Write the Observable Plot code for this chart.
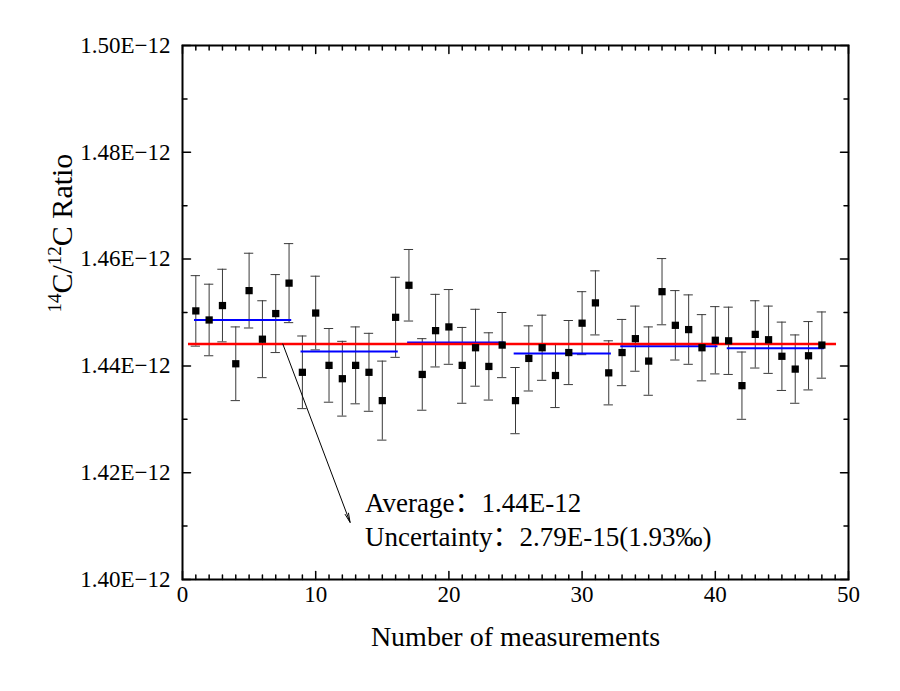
<!DOCTYPE html>
<html>
<head>
<meta charset="utf-8">
<script src="https://cdn.jsdelivr.net/npm/d3@7"></script>
<script src="https://cdn.jsdelivr.net/npm/@observablehq/plot@0.6"></script>
<style>
  html, body { margin: 0; padding: 0; background: #fff; }
</style>
</head>
<body>
<div id="chart"></div>
<script>
// Measurement number
const measurement = [1,2,3,4,5,6,7,8,9,10,11,12,13,14,15,16,17,18,19,20,21,22,23,24,
  25,26,27,28,29,30,31,32,33,34,35,36,37,38,39,40,41,42,43,44,45,46,47,48];
// 14C/12C ratio, in units of 1E-12
const ratio = [1.4503,1.4486,1.4513,1.4404,1.4541,1.4450,1.4498,1.4555,
  1.4388,1.4499,1.4401,1.4376,1.4401,1.4388,1.4335,1.4491,
  1.4551,1.4384,1.4466,1.4473,1.4401,1.4434,1.4399,1.4439,
  1.4335,1.4414,1.4434,1.4382,1.4425,1.4480,1.4518,1.4387,
  1.4425,1.4451,1.4409,1.4539,1.4476,1.4468,1.4434,1.4448,
  1.4447,1.4363,1.4459,1.4449,1.4418,1.4394,1.4419,1.4439];
// error (half-length of error bar), in units of 1E-12
const error = [0.0066,0.0067,0.0068,0.0069,0.0070,0.0072,0.0073,0.0074,
  0.0068,0.0069,0.0069,0.0070,0.0072,0.0073,0.0074,0.0075,
  0.0067,0.0067,0.0068,0.0070,0.0071,0.0072,0.0063,0.0061,
  0.0062,0.0061,0.0061,0.0060,0.0060,0.0059,0.0060,0.0060,
  0.0062,0.0061,0.0064,0.0062,0.0065,0.0065,0.0062,0.0063,
  0.0063,0.0063,0.0063,0.0063,0.0064,0.0064,0.0064,0.0062];
// group averages (blue segments)
const groupStart = [1, 9, 17, 25, 33, 41];
const groupEnd   = [8, 16, 24, 32, 40, 48];
const groupMean  = [1.4486, 1.4427, 1.4444, 1.4423, 1.4437, 1.4433];
// overall average (red line)
const overallMean = 1.4441;
// tick labels
const xTicks = [0, 10, 20, 30, 40, 50];
const yTicks = [1.40, 1.42, 1.44, 1.46, 1.48, 1.50];
const yTickLabels = ["1.40E\u221212", "1.42E\u221212", "1.44E\u221212", "1.46E\u221212", "1.48E\u221212", "1.50E\u221212"];
const annotationLines = ["Average：1.44E-12", "Uncertainty：2.79E-15(1.93‰)"];

const points = measurement.map((m, i) => ({m, v: ratio[i], e: error[i]}));
const groups = groupStart.map((s, i) => ({s, e: groupEnd[i], v: groupMean[i]}));
const yTickData = yTicks.map((v, i) => ({v, label: yTickLabels[i]}));

const xMinor = d3.range(0, 51).filter(d => d % 10 !== 0);
const yMinor = [1.41, 1.43, 1.45, 1.47, 1.49];

const lineShape = {draw(ctx, l) { ctx.moveTo(0, 0); ctx.lineTo(0, -l); }};
const tickVec = (data, opts) => Plot.vector(data, {shape: lineShape, anchor: "start", stroke: "black", strokeWidth: 1.5, ...opts});

const chart = Plot.plot({
  width: 900,
  height: 691,
  marginLeft: 182,
  marginRight: 52,
  marginTop: 45,
  marginBottom: 112,
  x: {domain: [0, 50], axis: null},
  y: {domain: [1.40, 1.50], axis: null},
  style: {fontFamily: "'Liberation Serif', 'Noto Sans CJK SC', serif", fontSize: "23px", color: "black", background: "white"},
  marks: [
    // tick labels
    Plot.text(xTicks, {x: d => d, frameAnchor: "bottom", dy: 22, text: d => String(d), fontSize: 23}),
    Plot.text(yTickData, {y: "v", frameAnchor: "left", dx: -12, textAnchor: "end", text: "label", fontSize: 23}),
    // inward ticks on all four sides
    tickVec(xTicks, {x: d => d, frameAnchor: "bottom", rotate: 0, length: 8}),
    tickVec(xMinor, {x: d => d, frameAnchor: "bottom", rotate: 0, length: 4.5}),
    tickVec(xTicks, {x: d => d, frameAnchor: "top", rotate: 180, length: 8}),
    tickVec(xMinor, {x: d => d, frameAnchor: "top", rotate: 180, length: 4.5}),
    tickVec(yTicks, {y: d => d, frameAnchor: "left", rotate: 90, length: 8}),
    tickVec(yMinor, {y: d => d, frameAnchor: "left", rotate: 90, length: 4.5}),
    tickVec(yTicks, {y: d => d, frameAnchor: "right", rotate: -90, length: 8}),
    tickVec(yMinor, {y: d => d, frameAnchor: "right", rotate: -90, length: 4.5}),
    Plot.frame({stroke: "black", strokeWidth: 2}),
    // error bars
    Plot.ruleX(points, {x: "m", y1: d => d.v - d.e, y2: d => d.v + d.e, stroke: "#3a3a3a", strokeWidth: 1}),
    Plot.ruleY(points, {y: d => d.v + d.e, x1: d => d.m - 0.35, x2: d => d.m + 0.35, stroke: "#3a3a3a", strokeWidth: 1}),
    Plot.ruleY(points, {y: d => d.v - d.e, x1: d => d.m - 0.35, x2: d => d.m + 0.35, stroke: "#3a3a3a", strokeWidth: 1}),
    // group means
    Plot.ruleY(groups, {y: "v", x1: d => d.s - 0.1, x2: d => d.e + 0.2, stroke: "#0000ff", strokeWidth: 2}),
    // overall mean
    Plot.ruleY([overallMean], {x1: 0.45, x2: 49.1, stroke: "#ff0000", strokeWidth: 2.5}),
    // points
    Plot.dot(points, {x: "m", y: "v", symbol: "square", r: 4.1, fill: "black", stroke: null}),
    // arrow + annotation
    Plot.arrow([0], {x1: 7.53, y1: overallMean, x2: 12.58, y2: 1.4107, stroke: "black", strokeWidth: 1, headLength: 14, headAngle: 22}),
    Plot.text([annotationLines[0]], {x: 13.7, y: 1.4142, text: d => d, textAnchor: "start", fontSize: 27}),
    Plot.text([annotationLines[1]], {x: 13.7, y: 1.4079, text: d => d, textAnchor: "start", fontSize: 27}),
    // axis titles
    Plot.text(["Number of measurements"], {frameAnchor: "bottom", dy: 66, text: d => d, fontSize: 28}),
    Plot.text(["14C/12C Ratio"], {frameAnchor: "left", dx: -120, rotate: -90, text: d => d, fontSize: 30})
  ]
});

// superscripts for the y-axis title
chart.querySelectorAll("text").forEach(t => {
  if (t.textContent === "14C/12C Ratio") {
    t.textContent = "";
    const parts = [["14", true], ["C/", false], ["12", true], ["C Ratio", false]];
    const ns = "http://www.w3.org/2000/svg";
    parts.forEach(([s, sup]) => {
      const ts = document.createElementNS(ns, "tspan");
      ts.textContent = s;
      if (sup) { ts.setAttribute("font-size", "19"); ts.setAttribute("dy", "-11"); }
      else { ts.setAttribute("dy", t.childNodes.length ? "11" : "0"); }
      t.appendChild(ts);
    });
  }
});

document.getElementById("chart").appendChild(chart);
</script>
</body>
</html>
